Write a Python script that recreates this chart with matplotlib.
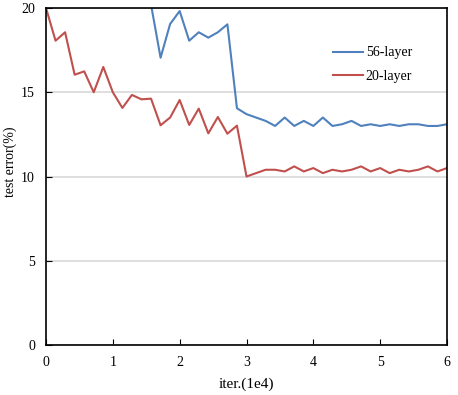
import matplotlib
matplotlib.use("Agg")
import matplotlib.pyplot as plt
import numpy as np

plt.rcParams['font.family'] = ['Liberation Serif', 'DejaVu Serif']

# iterations (1e4), one point every 1/7
iters = np.arange(43) / 7.0

err_20 = [20.0, 18.06, 18.56, 16.04, 16.24, 15.0, 16.5, 15.0, 14.07, 14.84,
          14.58, 14.62, 13.04, 13.5, 14.54, 13.06, 14.03, 12.56, 13.53, 12.54,
          13.02, 10.0, 10.2, 10.4, 10.4, 10.3, 10.6, 10.3, 10.5, 10.2,
          10.4, 10.3, 10.4, 10.6, 10.3, 10.5, 10.2, 10.4, 10.3, 10.4,
          10.6, 10.3, 10.5]

# 56-layer curve is above the plotted range before index 11
start_56 = 11
err_56 = [20.2, 17.05, 19.05, 19.82, 18.06, 18.56, 18.24, 18.56, 19.03, 14.05,
          13.7, 13.5, 13.3, 13.0, 13.5, 13.0, 13.3, 13.0, 13.5, 13.0,
          13.1, 13.3, 13.0, 13.1, 13.0, 13.1, 13.0, 13.1, 13.1, 13.0,
          13.0, 13.1]

fig = plt.figure(figsize=(4.58, 3.95), dpi=100)
ax = fig.add_axes([46 / 458, 1 - 345 / 395, 401 / 458, 337 / 395])

ax.plot(iters[start_56:], err_56, color='#4F81BD', linewidth=1.5, label='56-layer')
ax.plot(iters, err_20, color='#C0504D', linewidth=1.5, label='20-layer')

ax.set_xlim(0, 6)
ax.set_ylim(0, 20)
ax.set_xticks(range(0, 7))
ax.set_yticks([0, 5, 10, 15, 20])
ax.yaxis.grid(True, color='#D9D9D9', linewidth=1.2)
ax.set_axisbelow(True)
ax.tick_params(direction='in', length=4, labelsize=10, pad=8)

for sp in ax.spines.values():
    sp.set_linewidth(1.2)
    sp.set_color('black')

ax.set_xlabel('iter.(1e4)', fontsize=11, labelpad=6)
ax.set_ylabel('test error(%)', fontsize=10)
ax.yaxis.set_label_coords(-0.072, 0.543)

ax.legend(loc='upper left', bbox_to_anchor=(0.716, 0.886), frameon=False,
          borderpad=0, borderaxespad=0,
          fontsize=10, handlelength=2.15, handletextpad=0.2, labelspacing=0.75)

fig.savefig('out.png', dpi=100)
